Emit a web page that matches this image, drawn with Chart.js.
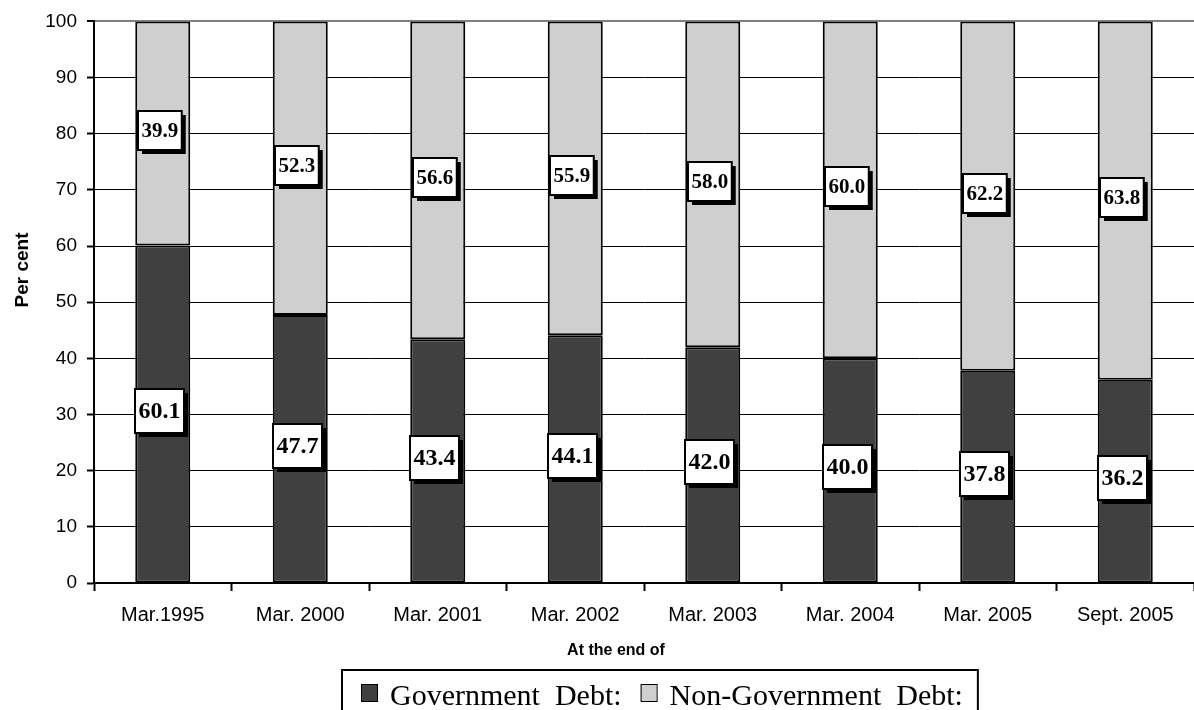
<!DOCTYPE html>
<html>
<head>
<meta charset="utf-8">
<script src="https://cdn.jsdelivr.net/npm/chart.js@4.4.0/dist/chart.umd.min.js"></script>
<style>
html,body{margin:0;padding:0;background:#fff;}
#c{display:block;}
</style>
</head>
<body>
<canvas id="c" width="1194" height="710"></canvas>
<script>
const categories = ["Mar.1995","Mar. 2000","Mar. 2001","Mar. 2002","Mar. 2003","Mar. 2004","Mar. 2005","Sept. 2005"];
const governmentDebt = [60.1,47.7,43.4,44.1,42.0,40.0,37.8,36.2];
const nonGovernmentDebt = [39.9,52.3,56.6,55.9,58.0,60.0,62.2,63.8];
const yTicks = [0,10,20,30,40,50,60,70,80,90,100];
const seriesLabels = ["Government  Debt:","Non-Government  Debt:"];
const xTitle = "At the end of";
const yTitle = "Per cent";

const DARK = "#404040", LIGHT = "#cfcfcf";
const SANS = "'Liberation Sans', Arial, sans-serif";
const SERIF = "'Liberation Serif', 'Times New Roman', serif";

const labelPlugin = {
  id: "boxLabels",
  afterDatasetsDraw(chart) {
    const ctx = chart.ctx;
    chart.data.datasets.forEach((ds, di) => {
      const meta = chart.getDatasetMeta(di);
      const fontSize = di === 0 ? 24 : 21;
      const boxH = di === 0 ? 44 : 39;
      meta.data.forEach((bar, i) => {
        const txt = ds.data[i].toFixed(1);
        ctx.save();
        ctx.font = "bold " + fontSize + "px " + SERIF;
        const tw = ctx.measureText(txt).width;
        const w = tw + 7;
        const cx = bar.x - 3;
        const cy = (bar.y + bar.base) / 2 - 3;
        const x0 = Math.round(cx - w / 2), y0 = Math.round(cy - boxH / 2);
        ctx.fillStyle = "#000";
        ctx.fillRect(x0 + 4, y0 + 4, w, boxH);
        ctx.fillStyle = "#fff";
        ctx.fillRect(x0, y0, w, boxH);
        ctx.lineWidth = 2;
        ctx.strokeStyle = "#000";
        ctx.strokeRect(x0, y0, w, boxH);
        ctx.fillStyle = "#000";
        ctx.textAlign = "center";
        ctx.textBaseline = "middle";
        ctx.fillText(txt, x0 + w / 2, y0 + boxH / 2 + 1);
        ctx.restore();
      });
    });
  },
  afterDraw(chart) {
    const ctx = chart.ctx;
    ctx.save();
    // x axis title
    ctx.font = "bold 16px " + SANS;
    ctx.fillStyle = "#000";
    ctx.textAlign = "center";
    ctx.textBaseline = "middle";
    ctx.fillText(xTitle, 616, 651);
    // y axis title
    ctx.save();
    ctx.translate(23, 270);
    ctx.rotate(-Math.PI / 2);
    ctx.font = "bold 19px " + SANS;
    ctx.fillText(yTitle, 0, 0);
    ctx.restore();
    // legend
    ctx.font = "30px " + SERIF;
    ctx.textAlign = "left";
    ctx.textBaseline = "alphabetic";
    const lx = 342, ly = 670;
    let x = lx + 19;
    chart.data.datasets.forEach((ds, di) => {
      ctx.fillStyle = ds.backgroundColor;
      ctx.fillRect(x, 684, 16, 17);
      ctx.lineWidth = 1;
      ctx.strokeStyle = "#000";
      ctx.strokeRect(x + 0.5, 684.5, 16, 17);
      x += 29;
      ctx.fillStyle = "#000";
      ctx.fillText(seriesLabels[di], x, 705);
      x += ctx.measureText(seriesLabels[di]).width + 19;
    });
    ctx.lineWidth = 2;
    ctx.strokeStyle = "#000";
    ctx.strokeRect(lx, ly, x - 4 - lx, 60);
    ctx.restore();
  }
};

new Chart(document.getElementById("c"), {
  type: "bar",
  data: {
    labels: categories,
    datasets: [
      { label: seriesLabels[0], data: governmentDebt, backgroundColor: DARK, borderColor: "#000", borderWidth: 2, borderSkipped: false, barPercentage: 0.40, categoryPercentage: 1.0 },
      { label: seriesLabels[1], data: nonGovernmentDebt, backgroundColor: LIGHT, borderColor: "#000", borderWidth: 2, borderSkipped: false, barPercentage: 0.40, categoryPercentage: 1.0 }
    ]
  },
  options: {
    responsive: false,
    animation: false,
    devicePixelRatio: 1,
    layout: { padding: { left: 0, top: 20, right: -16, bottom: 50 } },
    plugins: { legend: { display: false }, tooltip: { enabled: false } },
    scales: {
      x: {
        stacked: true,
        offset: true,
        afterFit: (s) => { s.height = 77; },
        border: { display: true, color: "#000", width: 2 },
        grid: { offset: true, drawOnChartArea: false, drawTicks: true, tickLength: 8, color: "#000", tickWidth: 2 },
        ticks: { color: "#000", padding: 12, maxRotation: 0, autoSkip: false, font: { family: SANS, size: 20 } }
      },
      y: {
        stacked: true,
        min: 0, max: 100,
        afterFit: (s) => { s.width = 94; },
        afterBuildTicks: (s) => { s.ticks = yTicks.map(v => ({ value: v })); },
        border: { display: true, color: "#000", width: 2 },
        grid: {
          drawTicks: true, tickLength: 7,
          color: (c) => c.tick && c.tick.value === 100 ? "#808080" : "#000",
          lineWidth: (c) => c.tick && c.tick.value === 100 ? 2 : 1,
          tickColor: "#000", tickWidth: 2
        },
        ticks: { color: "#000", padding: 10, font: { family: SANS, size: 19 } }
      }
    }
  },
  plugins: [labelPlugin]
});
</script>
</body>
</html>
